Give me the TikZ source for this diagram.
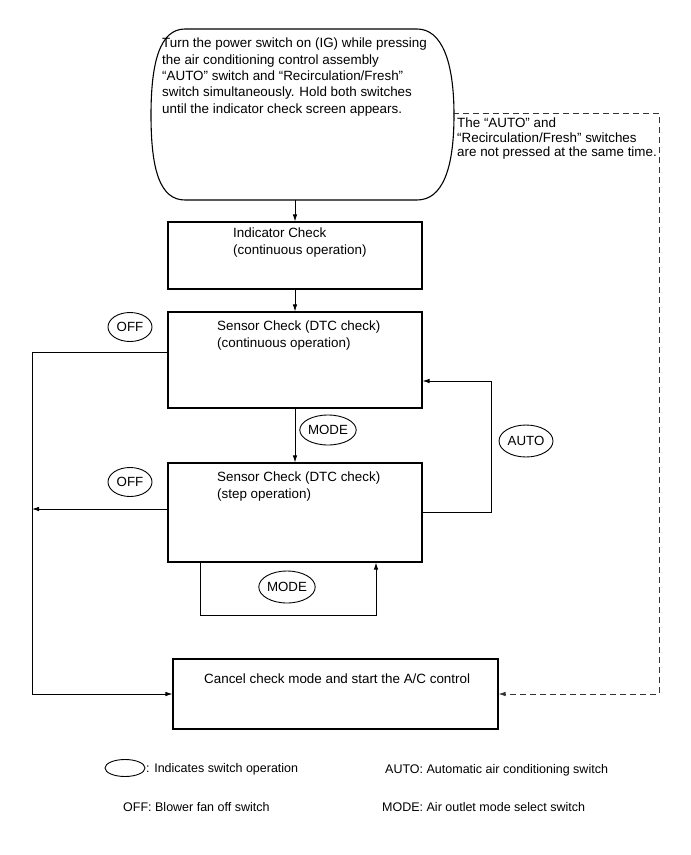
\documentclass[tikz,border=0pt]{standalone}
\usepackage{fontspec}
\setmainfont{Liberation Sans}
\usetikzlibrary{shapes.geometric,arrows.meta}
\tikzset{
  box/.style={draw,line width=1.1pt,minimum width=254pt,inner sep=0pt},
  sw/.style={draw,ellipse,line width=0.9pt,inner sep=0pt,font={\fontsize{13.3}{16}\selectfont}},
  txt/.style={anchor=north west,inner sep=0pt,align=left,font={\fontsize{13.4}{16.3}\selectfont}},
  leg/.style={anchor=base west,inner sep=0pt,font={\fontsize{12.5}{15}\selectfont}},
  conn/.style={line width=0.8pt},
  arr/.style={conn,-{Latex[length=7pt,width=4.5pt]}},
  dash line/.style={line width=0.8pt,dash pattern=on 6pt off 4pt,color=black!80}
}
\begin{document}
\begin{tikzpicture}[x=1pt,y=-1pt]
\useasboundingbox (0,0) rectangle (691,855);
% start shape
\draw[line width=1.1pt] (185,29) -- (417,29) .. controls (442,29) and (454,62) .. (454,115)
  .. controls (454,170) and (442,200) .. (417,200) -- (185,200)
  .. controls (160,200) and (151,170) .. (151,115) .. controls (151,62) and (160,29) .. (185,29);
\coordinate (startS) at (295,200);
\coordinate (startE) at (453,113);
\node[txt] (starttxt) at (162,38) {Turn the power switch on (IG) while pressing\\the air conditioning control assembly\\“AUTO” switch and “Recirculation/Fresh”\\switch simultaneously. Hold both switches\\until the indicator check screen appears.};
\node[txt,font={\fontsize{13.4}{14.5}\selectfont}] (dtxt) at (457,118) {The “AUTO” and\\“Recirculation/Fresh” switches\\are not pressed at the same time.};

% boxes
\node[box,minimum height=67pt] (ind) at (295,255.5) {};
\node[txt] (indtxt) at (233,228) {Indicator Check\\(continuous operation)};
\node[box,minimum height=96pt] (s1) at (295,360) {};
\node[txt] (s1txt) at (217,321) {Sensor Check (DTC check)\\(continuous operation)};
\node[box,minimum height=99pt] (s2) at (295,512.5) {};
\node[txt] (s2txt) at (217,472) {Sensor Check (DTC check)\\(step operation)};
\node[box,minimum width=325pt,minimum height=70pt] (cancel) at (335.5,694) {};
\node[txt] (ctxt) at (204,673.5) {Cancel check mode and start the A/C control};

% switch ovals
\node[sw,minimum width=44pt,minimum height=29pt] (off1) at (130,327) {OFF};
\node[sw,minimum width=44pt,minimum height=29pt] (off2) at (130,482) {OFF};
\node[sw,minimum width=54pt,minimum height=30pt] (mode1) at (328,430) {MODE};
\node[sw,minimum width=54pt,minimum height=32pt] (auto) at (526,441) {AUTO};
\node[sw,minimum width=55pt,minimum height=32pt] (mode2) at (287,587) {MODE};

% connectors
\draw[arr] (startS) -- (ind.north);
\draw[arr] (ind.south) -- (s1.north);
\draw[arr] (s1.south) -- (s2.north);
\coordinate (lbus) at (32,694);
\draw[arr] ([yshift=8pt]s1.west) -| (lbus) -- (cancel.west);
\draw[arr] ([yshift=3.5pt]s2.west) -- ([yshift=3.5pt]s2.west -| lbus);
\coordinate (autor) at (491,450);
\draw[arr] (s2.east) -- (s2.east -| autor) -- (autor |- 0,381) -- ([yshift=-21pt]s1.east);
\draw[arr] ([xshift=-95pt]s2.south) -- ++(0,53) -| ([xshift=81pt]s2.south);
\coordinate (dright) at (659,400);
\draw[dash line,-{Latex[length=7pt,width=4.5pt]}] (startE) -- (startE -| dright) -- (dright |- cancel.east) -- (cancel.east);

% legend
\node[draw,ellipse,line width=0.9pt,minimum width=40pt,minimum height=17pt,inner sep=0pt] (legov) at (125,768) {};
\node[leg] (l1) at (146,772.5) {: Indicates switch operation};
\node[leg] (l2) at (385,773.5) {AUTO: Automatic air conditioning switch};
\node[leg] (l3) at (123,811.5) {OFF: Blower fan off switch};
\node[leg] (l4) at (382,811.5) {MODE: Air outlet mode select switch};
\end{tikzpicture}
\end{document}
